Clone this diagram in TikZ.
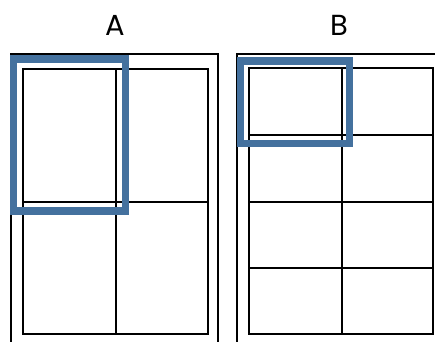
\documentclass[tikz,border=0pt]{standalone}
\usepackage{fontspec}
\setmainfont{Poppins}
\definecolor{selblue}{RGB}{68,113,158}
\begin{document}
\begin{tikzpicture}[x=1pt,y=-1pt,
  frame/.style={draw=black,line width=2pt},
  gridline/.style={draw=black,line width=1.9pt},
  sel/.style={draw=selblue,line width=7.5pt},
  lbl/.style={font=\fontsize{29}{30}\selectfont,inner sep=0pt}]
\useasboundingbox (0,0) rectangle (435,341);
\clip (0,0) rectangle (435,341);
% labels
\node[lbl] (la) at (115,25) {A};
\node[lbl] (lb) at (339,25) {B};
% panel A
\draw[frame] (11,400) -- (11,54.3) -- (218.3,54.3) -- (218.3,400);
\draw[gridline] (23.3,69.3) rectangle (208.3,334.3);
\draw[gridline] (116,69.3) -- (116,334.3);
\draw[gridline] (23.3,202.3) -- (208.3,202.3);
\draw[sel] (13.7,59.2) rectangle (125.5,210.8);
% panel B
\draw[frame] (236.7,400) -- (236.7,54.3) -- (500,54.3);
\draw[gridline] (249,68.3) rectangle (433.3,334);
\draw[gridline] (341.7,68.3) -- (341.7,334);
\draw[gridline] (249,135) -- (433.3,135);
\draw[gridline] (249,201.7) -- (433.3,201.7);
\draw[gridline] (249,268.3) -- (433.3,268.3);
\draw[sel] (240.5,60.8) rectangle (349.5,143.3);
\end{tikzpicture}
\end{document}
